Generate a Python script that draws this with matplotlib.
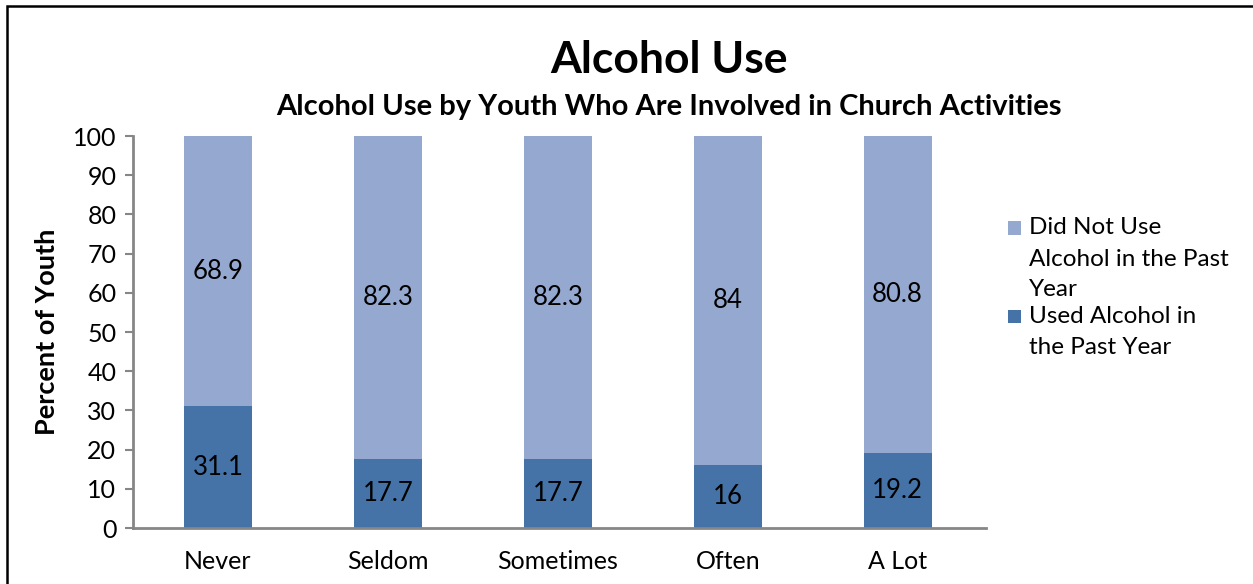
import matplotlib
matplotlib.use("Agg")
import matplotlib.pyplot as plt
from matplotlib.patches import Rectangle

categories = ["Never", "Seldom", "Sometimes", "Often", "A Lot"]
used = [31.1, 17.7, 17.7, 16, 19.2]
not_used = [68.9, 82.3, 82.3, 84, 80.8]
used_labels = ["31.1", "17.7", "17.7", "16", "19.2"]
not_used_labels = ["68.9", "82.3", "82.3", "84", "80.8"]
yticks = [0, 10, 20, 30, 40, 50, 60, 70, 80, 90, 100]
series_names = ["Did Not Use\nAlcohol in the Past\nYear", "Used Alcohol in\nthe Past Year"]

plt.rcParams['font.family'] = ['Lato', 'DejaVu Sans']

W, H = 1253, 584
fig = plt.figure(figsize=(W / 100, H / 100), dpi=100)
ax = fig.add_axes([133 / W, 56 / H, (986 - 133) / W, (528 - 136) / H])

light = "#95A9D0"
dark = "#4573A7"
x = list(range(len(categories)))
b1 = ax.bar(x, used, width=0.4, color=dark, label=series_names[1])
b2 = ax.bar(x, not_used, width=0.4, bottom=used, color=light, label=series_names[0])

for xi, u, n, ul, nl in zip(x, used, not_used, used_labels, not_used_labels):
    ax.text(xi, u / 2, ul, ha="center", va="center", fontsize=18.5, color="black")
    ax.text(xi, u + n / 2, nl, ha="center", va="center", fontsize=18.5, color="black")

ax.set_xlim(-0.5, 4.52)
ax.set_ylim(0, 100)
ax.set_yticks(yticks)
ax.set_yticklabels([str(t) for t in yticks], fontsize=18)
ax.set_xticks(x)
ax.set_xticklabels(categories, fontsize=18)
ax.tick_params(axis="x", length=0, pad=16)
ax.tick_params(axis="y", length=6, width=1.5, color="#868686", pad=6)
for s in ["top", "right"]:
    ax.spines[s].set_visible(False)
for s in ["left", "bottom"]:
    ax.spines[s].set_color("#868686")
    ax.spines[s].set_linewidth(2)
ax.set_ylabel("Percent of Youth", fontsize=19.5, fontweight="bold", labelpad=10)

fig.text((552 + 786) / 2 / W, 1 - 60 / H, "Alcohol Use", ha="center", va="center",
         fontsize=32, fontweight="bold")
fig.text((276 + 1062) / 2 / W, 1 - 107 / H, "Alcohol Use by Youth Who Are Involved in Church Activities",
         ha="center", va="center", fontsize=21, fontweight="bold")

# manual legend (handle aligned to first line of each entry)
legend_colors = [light, dark]
legend_tops = [228, 316]
line_step = 31
for name, col, y0 in zip(series_names, legend_colors, legend_tops):
    sq = 13
    fig.patches.append(Rectangle(((1014 - sq / 2) / W, 1 - (y0 + sq / 2) / H), sq / W, sq / H,
                                 transform=fig.transFigure, facecolor=col, edgecolor="none"))
    for i, line in enumerate(name.split("\n")):
        fig.text(1029 / W, 1 - (y0 + i * line_step) / H, line, ha="left", va="center",
                 fontsize=17.5)

fig.patches.append(Rectangle((7 / W, -0.1), 1.2, 1 - 6 / H + 0.1, transform=fig.transFigure,
                             fill=False, edgecolor="black", linewidth=1.8, zorder=10))

fig.savefig("out.png", dpi=100)
